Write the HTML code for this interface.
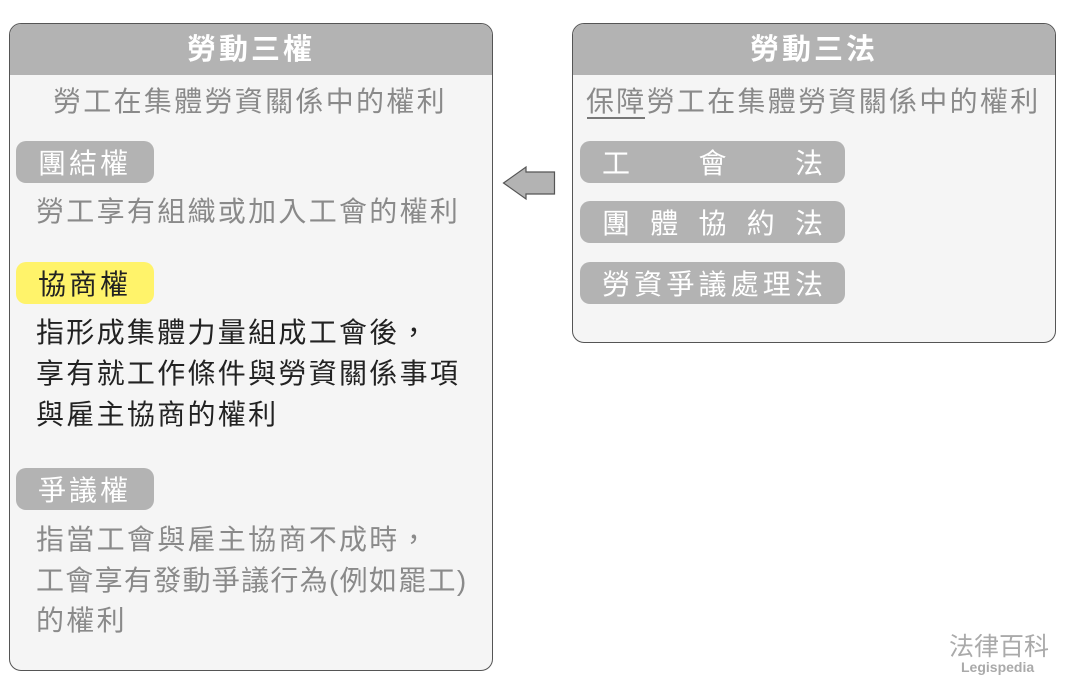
<!DOCTYPE html>
<html><head><meta charset="utf-8"><style>
*{margin:0;padding:0;box-sizing:border-box}
body{width:1065px;height:694px;background:#fff;position:relative;overflow:hidden;font-family:"Liberation Sans","Noto Sans CJK TC",sans-serif}
.box{position:absolute;background:#f5f5f5;border:1.5px solid #555;border-radius:12px;overflow:hidden}
.hd{position:absolute;left:0;right:0;top:0;height:51px;background:#b3b3b3;color:#fff;font-weight:bold;font-size:29px;letter-spacing:3px;text-align:center;line-height:53px}
.t{position:absolute;white-space:nowrap;font-size:28px;letter-spacing:2.3px;line-height:40px;color:#8a8a8a}
.pill{position:absolute;background:#b3b3b3;color:#fff;border-radius:10px;font-size:28px;line-height:45px;height:42px;white-space:nowrap}
</style></head><body>
<div class="box" style="left:9px;top:23px;width:484px;height:648px">
<div class="hd">勞動三權</div>
</div>
<div class="t" style="left:53px;top:82px">勞工在集體勞資關係中的權利</div>
<div class="pill" style="left:16px;top:141px;width:138px;padding-left:22px;letter-spacing:3px">團結權</div>
<div class="t" style="left:36px;top:192px">勞工享有組織或加入工會的權利</div>
<div class="pill" style="left:16px;top:262px;width:138px;padding-left:22px;letter-spacing:3px;background:#fff36a;color:#222">協商權</div>
<div class="t" style="left:36px;top:313px;color:#222">指形成集體力量組成工會後，</div>
<div class="t" style="left:36px;top:354px;color:#222">享有就工作條件與勞資關係事項</div>
<div class="t" style="left:36px;top:395px;color:#222">與雇主協商的權利</div>
<div class="pill" style="left:16px;top:468px;width:138px;padding-left:22px;letter-spacing:3px">爭議權</div>
<div class="t" style="left:36px;top:520px">指當工會與雇主協商不成時，</div>
<div class="t" style="left:36px;top:561px;letter-spacing:1.3px">工會享有發動爭議行為(例如罷工)</div>
<div class="t" style="left:36px;top:601px">的權利</div>

<div class="box" style="left:572px;top:23px;width:484px;height:320px">
<div class="hd">勞動三法</div>
</div>
<div class="t" style="left:586px;top:82px">保障勞工在集體勞資關係中的權利</div>
<div style="position:absolute;left:587px;top:117px;width:58px;height:1.5px;background:#777"></div>
<div class="pill" style="left:580px;top:141px;width:265px;padding:0 22px;display:flex;justify-content:space-between"><span>工</span><span>會</span><span>法</span></div>
<div class="pill" style="left:580px;top:201px;width:265px;padding:0 22px;display:flex;justify-content:space-between"><span>團</span><span>體</span><span>協</span><span>約</span><span>法</span></div>
<div class="pill" style="left:580px;top:262px;width:265px;padding:0 22px;display:flex;justify-content:space-between"><span>勞</span><span>資</span><span>爭</span><span>議</span><span>處</span><span>理</span><span>法</span></div>

<svg style="position:absolute;left:0;top:0" width="1065" height="694">
<polygon points="503.5,183 526,167 526,172 554.5,172 554.5,194 526,194 526,199" fill="#b3b3b3" stroke="#555" stroke-width="1.2"/>
</svg>
<div style="position:absolute;left:949px;top:627px;font-size:25px;color:#aaa;white-space:nowrap">法律百科</div>
<div style="position:absolute;left:961px;top:659px;font-size:14px;font-weight:bold;color:#aaa">Legispedia</div>
</body></html>
